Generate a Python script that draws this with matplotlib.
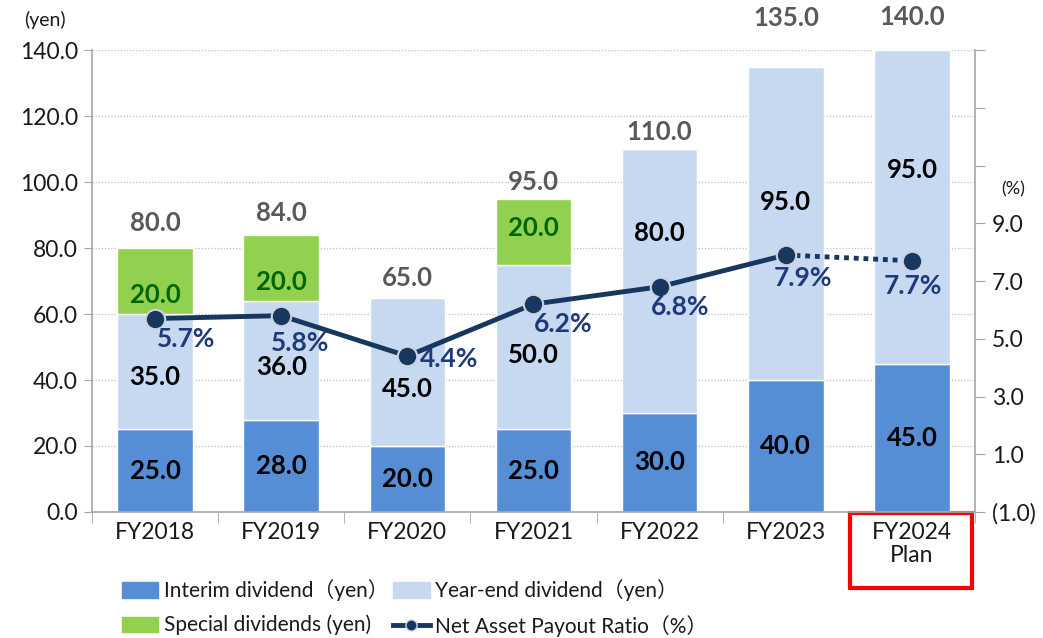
import matplotlib
matplotlib.use("Agg")
import numpy as np
import matplotlib.pyplot as plt
from matplotlib.patches import Patch, Rectangle
from matplotlib.lines import Line2D
from matplotlib.transforms import blended_transform_factory

plt.rcParams['font.family'] = ['Lato', 'Noto Sans CJK JP', 'DejaVu Sans']

# data
years = ["FY2018", "FY2019", "FY2020", "FY2021", "FY2022", "FY2023", "FY2024\nPlan"]
interim = [25.0, 28.0, 20.0, 25.0, 30.0, 40.0, 45.0]
year_end = [35.0, 36.0, 45.0, 50.0, 80.0, 95.0, 95.0]
special = [20.0, 20.0, 0.0, 20.0, 0.0, 0.0, 0.0]
payout = [5.7, 5.8, 4.4, 6.2, 6.8, 7.9, 7.7]

# colours
c_interim = "#558ED5"
c_yearend = "#C6D9F1"
c_special = "#92D050"
c_line = "#17375E"
c_pct = "#1F3A78"

# label nudges in pixels (layout only)
yearend_dy = [-5, -7, -17, -8, 48, 21, 37]
special_dy = [-14, -14, 0, 4, 0, 0, 0]
total_dy = [25, 22, 20, 17, 17, 49, 33]
pct_off = [(31, -20), (19, -27), (42, -3), (30, -20), (20, -20), (17, -23), (1, -25)]

x = np.arange(len(years))
interim = np.array(interim)
year_end = np.array(year_end)
special = np.array(special)
totals = interim + year_end + special

fig = plt.figure(figsize=(10.43, 6.38), dpi=100)
ax = fig.add_axes([0.0882, 0.1975, 0.8466, 0.7241])

w = 0.6
ax.bar(x, interim, w, color=c_interim, edgecolor="white", linewidth=1, zorder=2)
ax.bar(x, year_end, w, bottom=interim, color=c_yearend, edgecolor="white", linewidth=1, zorder=2)
ax.bar(x, special, w, bottom=interim + year_end, color=c_special, edgecolor="white", linewidth=1, zorder=2)

ax.set_xlim(-0.5, len(years) - 0.5)
ax.set_ylim(0, 140)
ax.set_yticks(np.arange(0, 141, 20))
ax.set_yticklabels(["%.1f" % v for v in np.arange(0, 141, 20)])
ax.yaxis.grid(True, linestyle=(0, (1, 1.5)), color="#BFBFBF", linewidth=0.9, zorder=0)
ax.set_axisbelow(True)

ax.set_xticks(x)
ax.set_xticklabels(years, linespacing=1.15)
ax.set_xticks(np.arange(-0.5, len(years), 1), minor=True)
ax.tick_params(axis="x", which="major", length=0, pad=7, labelsize=16.5, labelcolor="#1a1a1a")
ax.tick_params(axis="x", which="minor", length=8, color="#A6A6A6", direction="out")
ax.tick_params(axis="y", length=6, color="#A6A6A6", labelsize=16.5, labelcolor="#1a1a1a", pad=4)
for s in ["top", "right"]:
    ax.spines[s].set_visible(False)
for s in ["left", "bottom"]:
    ax.spines[s].set_color("#A6A6A6")
    ax.spines[s].set_linewidth(1.2)

# labels inside the bars
for i in range(len(years)):
    ax.annotate("%.1f" % interim[i], (x[i], interim[i] / 2), ha="center", va="center",
                fontsize=18.5, fontweight="bold", color="black", zorder=5)
    ax.annotate("%.1f" % year_end[i], (x[i], interim[i] + year_end[i] / 2),
                xytext=(0, yearend_dy[i]), textcoords="offset pixels",
                ha="center", va="center", fontsize=18.5, fontweight="bold", color="black", zorder=5)
    if special[i] > 0:
        ax.annotate("%.1f" % special[i], (x[i], interim[i] + year_end[i] + special[i] / 2),
                    xytext=(0, special_dy[i]), textcoords="offset pixels",
                    ha="center", va="center", fontsize=18.5, fontweight="bold", color="#006600", zorder=5)
    ax.annotate("%.1f" % totals[i], (x[i], totals[i]), xytext=(0, total_dy[i]),
                textcoords="offset pixels", ha="center", va="center", fontsize=18.5,
                fontweight="bold", color="#595959", annotation_clip=False)

# payout ratio on the right axis
ax2 = ax.twinx()
ax2.set_ylim(-1, 15)
ax2.set_yticks(np.arange(-1, 16, 2))
ax2.set_yticklabels(["(1.0)" if v < 0 else ("%.1f" % v if v <= 9 else "") for v in np.arange(-1, 16, 2)])
ax2.tick_params(axis="y", length=7, color="#A6A6A6", labelsize=16.5, labelcolor="#1a1a1a", pad=5)
for s in ["top", "left", "bottom"]:
    ax2.spines[s].set_visible(False)
ax2.spines["right"].set_color("#A6A6A6")
ax2.spines["right"].set_linewidth(1.2)

ax2.plot(x[:-1], payout[:-1], color=c_line, linewidth=3.5, zorder=3)
ax2.plot(x[-2:], payout[-2:], color=c_line, linewidth=3.5, linestyle=(0, (1, 1)), zorder=3)
ax2.plot(x, payout, linestyle="none", marker="o", markersize=14, markerfacecolor=c_line,
         markeredgecolor="#C9D3E3", markeredgewidth=1.5, zorder=4)
for i in range(len(years)):
    ax2.annotate("%.1f%%" % payout[i], (x[i], payout[i]), xytext=pct_off[i],
                 textcoords="offset pixels", ha="center", va="center", fontsize=19,
                 fontweight="bold", color=c_pct, zorder=6)

fig.text(0.043, 0.968, "(yen)", ha="center", va="center", fontsize=14, color="#1a1a1a")
fig.text(0.971, 0.703, "(%)", ha="center", va="center", fontsize=13, color="#1a1a1a")

# red box around the plan label
trans = blended_transform_factory(ax.transData, ax.transAxes)
ax.add_patch(Rectangle((x[-1] - 0.49, -0.165), 0.97, 0.162, transform=trans, fill=False,
                       edgecolor="#FF0000", linewidth=3, clip_on=False))

# legend
h1 = [Patch(color=c_interim), Patch(color=c_special)]
h2 = [Patch(color=c_yearend),
      Line2D([], [], color=c_line, linewidth=3.5, marker="o", markersize=8,
             markerfacecolor=c_line, markeredgecolor="#C9D3E3")]
leg_kw = dict(frameon=False, fontsize=15, handlelength=1.75, handleheight=0.75,
              handletextpad=0.25, labelspacing=0.65, borderpad=0, labelcolor="#1a1a1a")
fig.legend(h1, ["Interim dividend（yen）", "Special dividends (yen)"],
           loc="upper left", bbox_to_anchor=(0.107, 0.108), **leg_kw)
fig.legend(h2, ["Year-end dividend（yen）", "Net Asset Payout Ratio（%）"],
           loc="upper left", bbox_to_anchor=(0.367, 0.108), **leg_kw)

fig.savefig("out.png", dpi=100)
